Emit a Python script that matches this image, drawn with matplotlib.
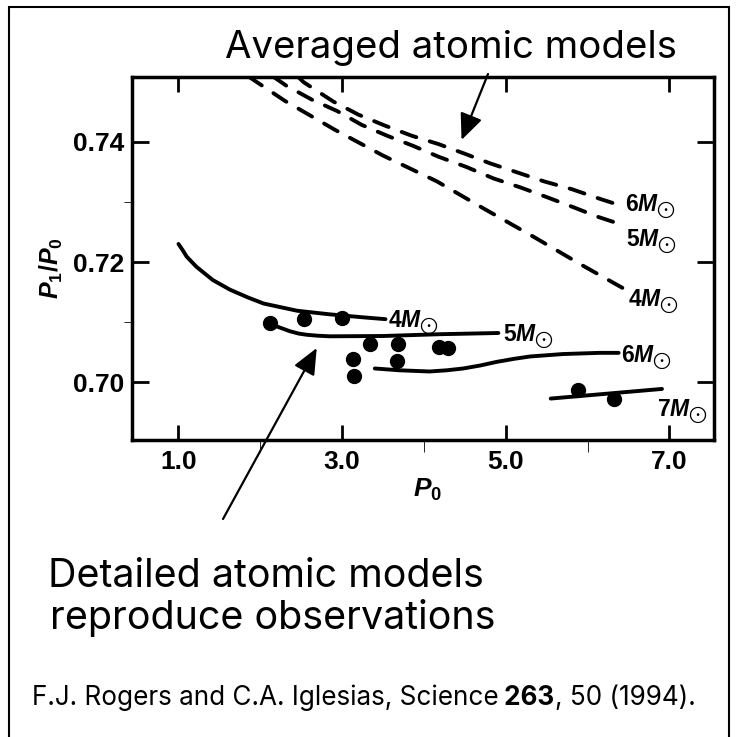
import matplotlib
matplotlib.use('Agg')
import matplotlib.pyplot as plt
from matplotlib.patches import Rectangle

# averaged atomic models (dashed)
avg_4m_p0 = [1.86, 2.30, 2.91, 3.50, 4.16, 4.73, 5.34, 5.93, 6.44]
avg_4m_ratio = [0.7508, 0.7468, 0.7420, 0.7377, 0.7334, 0.7289, 0.7242, 0.7195, 0.7156]
avg_5m_p0 = [2.16, 2.32, 2.63, 2.94, 3.24, 3.55, 3.87, 4.18, 4.52, 4.85, 5.18, 5.48, 5.81, 6.13, 6.42]
avg_5m_ratio = [0.7508, 0.7493, 0.7470, 0.7451, 0.7428, 0.7410, 0.7393, 0.7375, 0.7358, 0.7339, 0.7324,
                0.7309, 0.7292, 0.7275, 0.7262]
avg_6m_p0 = [2.46, 2.53, 2.89, 3.20, 3.52, 3.85, 4.18, 4.50, 4.81, 5.14, 5.47, 5.81, 6.13, 6.38]
avg_6m_ratio = [0.7508, 0.7499, 0.7467, 0.7445, 0.7427, 0.7410, 0.7396, 0.7380, 0.7364, 0.7349, 0.7334,
                0.7321, 0.7306, 0.7295]

# detailed atomic models (solid)
det_4m_p0 = [1.00, 1.05, 1.10, 1.22, 1.42, 1.63, 1.85, 2.04, 2.45, 2.85, 3.26, 3.53]
det_4m_ratio = [0.7230, 0.7220, 0.7209, 0.7192, 0.7170, 0.7154, 0.7141, 0.7131, 0.7119, 0.7113, 0.7108, 0.7105]
det_5m_p0 = [2.16, 2.26, 2.36, 2.47, 2.57, 2.70, 2.85, 3.50, 4.20, 4.91]
det_5m_ratio = [0.7095, 0.7090, 0.7085, 0.7081, 0.7079, 0.70775, 0.70765, 0.7077, 0.7080, 0.7082]
det_6m_p0 = [3.40, 3.70, 4.07, 4.28, 4.48, 4.69, 4.89, 5.10, 5.30, 5.70, 6.15, 6.38]
det_6m_ratio = [0.7023, 0.7020, 0.7018, 0.7020, 0.7023, 0.7028, 0.7034, 0.7039, 0.7043, 0.7047, 0.7049, 0.7049]
det_7m_p0 = [5.55, 6.91]
det_7m_ratio = [0.6973, 0.6989]

# observed Cepheids
obs_p0 = [2.12, 2.53, 3.00, 3.13, 3.15, 3.34, 3.68, 3.67, 4.18, 4.30, 5.88, 6.32]
obs_ratio = [0.7098, 0.7105, 0.7107, 0.7038, 0.7010, 0.7064, 0.7064, 0.7036, 0.7059, 0.7057, 0.6987, 0.6973]

x_major = [1, 3, 5, 7]
x_minor = [2, 4, 6]
x_labels = ['1.0', '3.0', '5.0', '7.0']
y_major = [0.70, 0.72, 0.74]
y_minor = [0.71, 0.73]
y_labels = ['0.70', '0.72', '0.74']

plt.rcParams['font.family'] = 'Liberation Sans'
plt.rcParams['mathtext.fontset'] = 'custom'
plt.rcParams['mathtext.rm'] = 'Liberation Sans:bold'
plt.rcParams['mathtext.it'] = 'Liberation Sans:bold:italic'
plt.rcParams['mathtext.bf'] = 'Liberation Sans:bold'
plt.rcParams['mathtext.fallback'] = 'stixsans'

W = 737.0
fig = plt.figure(figsize=(7.37, 7.37), dpi=100)
ax = fig.add_axes([131.6 / W, 1 - 440 / W, (714 - 131.6) / W, (440 - 77) / W])

line_kw = dict(color='black', lw=2.8, solid_capstyle='round')
dash_kw = dict(color='black', lw=2.8, dashes=(4, 3.6), dash_capstyle='round')

curves = [
    (avg_6m_p0, avg_6m_ratio, dash_kw, r'$6M_{\bigodot}$', (6, -6)),
    (avg_5m_p0, avg_5m_ratio, dash_kw, r'$5M_{\bigodot}$', (4, -21)),
    (avg_4m_p0, avg_4m_ratio, dash_kw, r'$4M_{\bigodot}$', (4, -18)),
    (det_4m_p0, det_4m_ratio, line_kw, r'$4M_{\bigodot}$', (3, -8)),
    (det_5m_p0, det_5m_ratio, line_kw, r'$5M_{\bigodot}$', (5, -8)),
    (det_6m_p0, det_6m_ratio, line_kw, r'$6M_{\bigodot}$', (2, -9)),
    (det_7m_p0, det_7m_ratio, line_kw, r'$7M_{\bigodot}$', (-5, -27)),
]
for xs, ys, kw, lab, off in curves:
    ax.plot(xs, ys, **kw)
    ax.annotate(lab, xy=(xs[-1], ys[-1]), xytext=off, textcoords='offset pixels',
                ha='left', va='baseline', fontsize=16.5, annotation_clip=False)

ax.plot(obs_p0, obs_ratio, 'o', color='black', ms=10)

ax.set_xlim(0.427, 7.546)
ax.set_ylim(0.69041, 0.75076)
ax.set_xticks(x_major)
ax.set_xticklabels(x_labels)
ax.set_xticks(x_minor, minor=True)
ax.set_yticks(y_major)
ax.set_yticklabels(y_labels)
ax.set_yticks(y_minor, minor=True)
for lab in ax.get_xticklabels() + ax.get_yticklabels():
    lab.set_fontweight('bold')
    lab.set_fontsize(19)
ax.tick_params(direction='in', top=True, right=True, width=2, colors='black')
ax.tick_params(axis='x', which='major', length=11, pad=7)
ax.tick_params(axis='x', which='minor', length=8.5)
ax.tick_params(axis='y', which='major', length=12, pad=5)
ax.tick_params(axis='y', which='minor', length=6)
for sp in ax.spines.values():
    sp.set_linewidth(2.5)

ax.set_xlabel(r'$P_0$', fontsize=19, va='center')
ax.xaxis.set_label_coords(0.509, -0.138)
ax.set_ylabel(r'$P_1/P_0$', fontsize=18, va='center')
ax.yaxis.set_label_coords(-0.137, 0.474)

# annotation arrows
arrow_kw = dict(arrowstyle='-|>,head_length=0.8,head_width=0.35', color='black', lw=1.6,
                shrinkA=0, shrinkB=0, mutation_scale=20)
ax.annotate('', xy=(4.46, 0.7403), xycoords='data', xytext=(488 / W, 1 - 74 / W),
            textcoords='figure fraction', arrowprops=arrow_kw, annotation_clip=False)
ax.annotate('', xy=(2.69, 0.7057), xycoords='data', xytext=(223 / W, 1 - 519 / W),
            textcoords='figure fraction', arrowprops=arrow_kw, annotation_clip=False)

txt = dict(family='Inter', color='black', va='baseline', ha='left')
fig.text(225 / W, 1 - 58.3 / W, 'Averaged atomic models', fontsize=27.6, **txt)
fig.text(48.3 / W, 1 - 587 / W, 'Detailed atomic models', fontsize=28.4, **txt)
fig.text(50 / W, 1 - 629 / W, 'reproduce observations', fontsize=28.4, **txt)

foot_size = 18.8
t1 = fig.text(31.7 / W, 1 - 705 / W, 'F.J. Rogers and C.A. Iglesias, Science', fontsize=foot_size, **txt)
t2 = fig.text(0, 0, ' 263', fontsize=foot_size, fontweight='bold', **txt)
t3 = fig.text(0, 0, ', 50 (1994).', fontsize=foot_size, **txt)
fig.canvas.draw()
r = fig.canvas.get_renderer()
x_end = t1.get_window_extent(r).x1
t2.set_position((x_end / fig.bbox.width, 1 - 705 / W))
fig.canvas.draw()
x_end = t2.get_window_extent(r).x1
t3.set_position((x_end / fig.bbox.width, 1 - 705 / W))

fig.add_artist(Rectangle((8.5 / W, -0.05), (728.5 - 8.5) / W, (737 - 7) / W + 0.05,
                         transform=fig.transFigure, fill=False, lw=1.5, ec='black'))

fig.savefig('out.png', dpi=100)
